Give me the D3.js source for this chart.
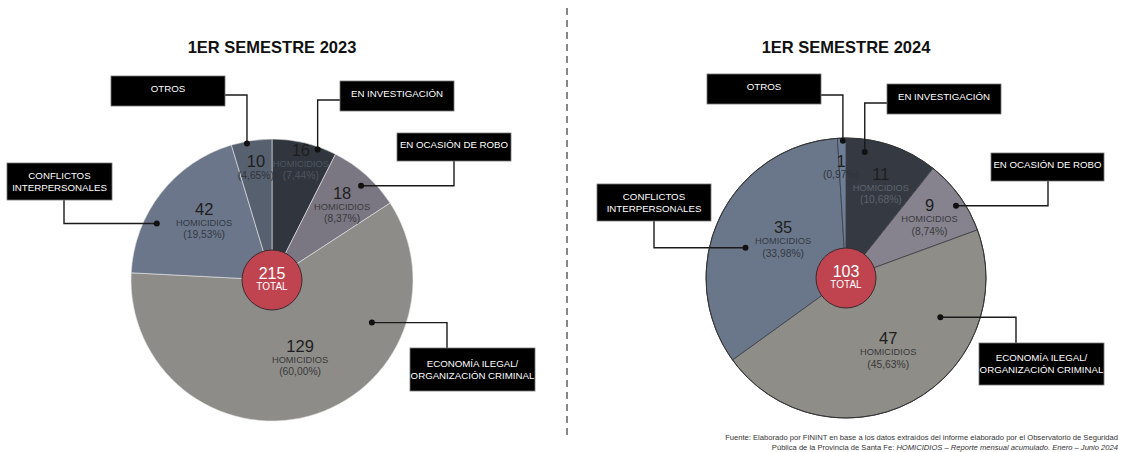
<!DOCTYPE html>
<html>
<head>
<meta charset="utf-8">
<script src="https://cdn.jsdelivr.net/npm/d3@7/dist/d3.min.js"></script>
<style>
  html, body { margin: 0; padding: 0; background: #fff; }
  svg { display: block; font-family: "Liberation Sans", Arial, sans-serif; }
</style>
</head>
<body>
<svg id="chart" width="1123" height="452"></svg>
<script>
// ---------- DATA ----------
const categories = ["EN INVESTIGACIÓN", "EN OCASIÓN DE ROBO", "ECONOMÍA ILEGAL/|ORGANIZACIÓN CRIMINAL", "CONFLICTOS|INTERPERSONALES", "OTROS"];
const titles = ["1ER SEMESTRE 2023", "1ER SEMESTRE 2024"];
const values2023 = [16, 18, 129, 42, 10];
const values2024 = [11, 9, 47, 35, 1];
const unitLabel = "HOMICIDIOS";
const totalLabel = "TOTAL";
const sourceLine1 = "Fuente: Elaborado por FININT en base a los datos extraídos del informe elaborado por el Observatorio de Seguridad";
const sourceLine2a = "Pública de la Provincia de Santa Fe: ";
const sourceLine2b = "HOMICIDIOS – Reporte mensual acumulado. Enero – Junio 2024";

// ---------- LAYOUT / STYLE ----------
const layouts = [
  {
    values: values2023, cx: 272, cy: 280, r: 141, titleY: 53,
    colors: ["#31363e", "#7a7682", "#8d8c88", "#6b768a", "#57606f"],
    sliceStroke: "#e8e8e8", sliceStrokeW: 0.6, outline: "none",
    subFill: ["#4f555e", "#3a3a3e", "#3a3a3a", "#333a44", "#2f343b"],
    label: [{t:.52,r:.85},{t:.56,r:.72},{t:.48,r:.60},{t:.53,r:.63},{t:.51,r:.80}],
    dot:   [{t:.72,r:.98},{t:.55,r:.92},{t:.26,r:.77},{t:.33,r:.91},{t:.38,r:.985}],
    box: [
      {x:340, y:81,  w:114, h:30, elbow:"v", at:100},
      {x:397, y:133, w:114, h:28, elbow:"h", at:454},
      {x:410, y:348, w:125, h:43, elbow:"h", at:447},
      {x:7,   y:163, w:105, h:37, elbow:"h", at:64},
      {x:111, y:76,  w:114, h:30, elbow:"v", at:95}
    ],
    hole: 30
  },
  {
    values: values2024, cx: 846, cy: 278, r: 140, titleY: 53,
    colors: ["#353a42", "#86838e", "#8e8d88", "#6a778b", "#6e7d96"],
    sliceStroke: "#3a3d44", sliceStrokeW: 0.8, outline: "#333",
    subFill: ["#5d636d", "#3a3a3e", "#3a3a3a", "#333a44", "#2f343b"],
    label: [{t:.55,r:.69},{t:.52,r:.73},{t:.49,r:.61},{t:.54,r:.52},{t:.26,r:.79}],
    dot:   [{t:.22,r:.91},{t:.58,r:.94},{t:.26,r:.73},{t:.43,r:.75},{t:.63,r:.98}],
    box: [
      {x:887, y:84,  w:114, h:30, elbow:"v", at:103},
      {x:991, y:153, w:113, h:28, elbow:"h", at:1048},
      {x:979, y:343, w:125, h:42, elbow:"h", at:1016},
      {x:597, y:184, w:114, h:37, elbow:"h", at:654},
      {x:707, y:74,  w:114, h:30, elbow:"v", at:95}
    ],
    hole: 30
  }
];

const svg = d3.select("#chart");
const fmtPct = v => "(" + v.toFixed(2).replace(".", ",") + "%)";

// divider
svg.append("line")
  .attr("x1", 567).attr("x2", 567).attr("y1", 8).attr("y2", 440)
  .attr("stroke", "#555").attr("stroke-width", 1.4).attr("stroke-dasharray", "7,5");

layouts.forEach((L, ci) => {
  const total = d3.sum(L.values);
  const pie = d3.pie().sort(null).value(d => d)(L.values);
  const arc = d3.arc().innerRadius(0).outerRadius(L.r);
  const g = svg.append("g");

  // title
  g.append("text")
    .attr("x", L.cx).attr("y", L.titleY)
    .attr("text-anchor", "middle")
    .attr("font-size", 16.5).attr("font-weight", "bold").attr("fill", "#111")
    .text(titles[ci]);

  const pg = g.append("g").attr("transform", `translate(${L.cx},${L.cy})`);
  pg.selectAll("path.slice").data(pie).join("path")
    .attr("class", "slice")
    .attr("d", arc)
    .attr("fill", (d, i) => L.colors[i])
    .attr("stroke", L.sliceStroke).attr("stroke-width", L.sliceStrokeW);
  if (L.outline !== "none") {
    pg.append("circle").attr("r", L.r).attr("fill", "none")
      .attr("stroke", L.outline).attr("stroke-width", 1);
  }

  const pointAt = (d, spec) => {
    const a = d.startAngle + (d.endAngle - d.startAngle) * spec.t;
    const R = L.r * spec.r;
    return [L.cx + R * Math.sin(a), L.cy - R * Math.cos(a)];
  };

  // slice labels
  pie.forEach((d, i) => {
    const [x, y] = pointAt(d, L.label[i]);
    const isOtros = i === 4;
    const t = g.append("g");
    t.append("text")
      .attr("x", x).attr("y", isOtros ? y - 7 : y - 14)
      .attr("text-anchor", "middle").attr("dominant-baseline", "central")
      .attr("font-size", 16.5).attr("fill", "#1e1e1e")
      .text(d.data);
    if (!isOtros) {
      t.append("text")
        .attr("x", x).attr("y", y)
        .attr("text-anchor", "middle").attr("dominant-baseline", "central")
        .attr("font-size", 9.3).attr("fill", L.subFill[i])
        .text(unitLabel);
    }
    t.append("text")
      .attr("x", x).attr("y", isOtros ? y + 7 : y + 12)
      .attr("text-anchor", "middle").attr("dominant-baseline", "central")
      .attr("font-size", 10.3).attr("fill", L.subFill[i])
      .text(fmtPct(d.data / total * 100));
  });

  // center total
  g.append("circle").attr("cx", L.cx).attr("cy", L.cy).attr("r", L.hole)
    .attr("fill", "#c0444f").attr("stroke", "#3a2a2c").attr("stroke-width", 1);
  g.append("text").attr("x", L.cx).attr("y", L.cy - 7)
    .attr("text-anchor", "middle").attr("dominant-baseline", "central")
    .attr("font-size", 16).attr("fill", "#fff").text(total);
  g.append("text").attr("x", L.cx).attr("y", L.cy + 6)
    .attr("text-anchor", "middle").attr("dominant-baseline", "central")
    .attr("font-size", 10).attr("fill", "#fff").text(totalLabel);

  // callouts
  pie.forEach((d, i) => {
    const [dx, dy] = pointAt(d, L.dot[i]);
    const b = L.box[i];
    let pts;
    if (b.elbow === "v") {
      const sideX = (b.x + b.w / 2 < dx) ? b.x + b.w : b.x;
      pts = [[dx, dy], [dx, b.at], [sideX, b.at]];
    } else {
      const edgeY = (b.y + b.h / 2 < dy) ? b.y + b.h : b.y;
      pts = [[dx, dy], [b.at, dy], [b.at, edgeY]];
    }
    g.append("path").attr("d", d3.line()(pts))
      .attr("fill", "none").attr("stroke", "#1a1a1a").attr("stroke-width", 1.4);
    g.append("circle").attr("cx", dx).attr("cy", dy).attr("r", 3).attr("fill", "#111");

    g.append("rect").attr("x", b.x).attr("y", b.y).attr("width", b.w).attr("height", b.h)
      .attr("fill", "#000").attr("stroke", "#777").attr("stroke-width", 0.8);
    const lines = categories[i].split("|");
    const cy = b.y + b.h / 2;
    lines.forEach((ln, k) => {
      const off = lines.length === 1 ? -2.5 : (k === 0 ? -6.5 : 5.5);
      g.append("text").attr("x", b.x + b.w / 2).attr("y", cy + off)
        .attr("text-anchor", "middle").attr("dominant-baseline", "central")
        .attr("font-size", 9.7).attr("fill", "#fff").text(ln);
    });
  });
});

// source
svg.append("text").attr("x", 1118).attr("y", 440).attr("text-anchor", "end")
  .attr("font-size", 7.6).attr("fill", "#333").text(sourceLine1);
const s2 = svg.append("text").attr("x", 1118).attr("y", 450).attr("text-anchor", "end")
  .attr("font-size", 7.6).attr("fill", "#333");
s2.append("tspan").text(sourceLine2a);
s2.append("tspan").attr("font-style", "italic").text(sourceLine2b);
</script>
</body>
</html>
